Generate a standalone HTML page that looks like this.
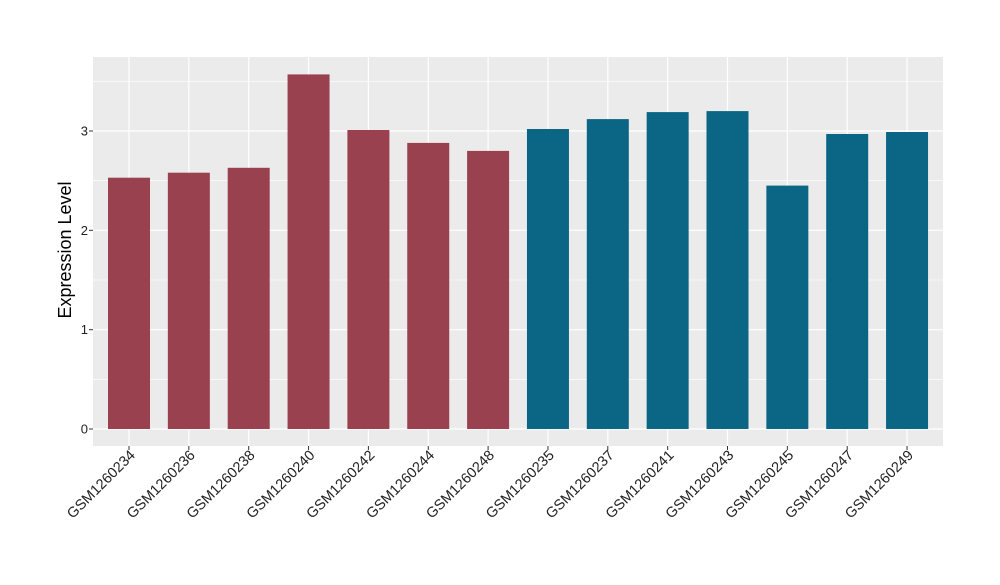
<!DOCTYPE html>
<html><head><meta charset="utf-8"><style>body{margin:0;background:#fff}</style></head>
<body>
<svg width="1000" height="580" xmlns="http://www.w3.org/2000/svg" font-family="Liberation Sans, sans-serif">
<rect x="93" y="57" width="850" height="389" fill="#EBEBEB"/>
<g stroke="#fff" stroke-width="0.6">
<line x1="93" x2="943" y1="379.3" y2="379.3"/><line x1="93" x2="943" y1="280" y2="280"/><line x1="93" x2="943" y1="180.7" y2="180.7"/><line x1="93" x2="943" y1="81.3" y2="81.3"/>
</g>
<g stroke="#fff" stroke-width="1.2">
<line x1="93" x2="943" y1="429" y2="429"/><line x1="93" x2="943" y1="329.7" y2="329.7"/><line x1="93" x2="943" y1="230.3" y2="230.3"/><line x1="93" x2="943" y1="131" y2="131"/>
<line x1="129" x2="129" y1="57" y2="446"/><line x1="188.85" x2="188.85" y1="57" y2="446"/><line x1="248.7" x2="248.7" y1="57" y2="446"/><line x1="308.55" x2="308.55" y1="57" y2="446"/><line x1="368.4" x2="368.4" y1="57" y2="446"/><line x1="428.25" x2="428.25" y1="57" y2="446"/><line x1="488.1" x2="488.1" y1="57" y2="446"/><line x1="547.95" x2="547.95" y1="57" y2="446"/><line x1="607.8" x2="607.8" y1="57" y2="446"/><line x1="667.65" x2="667.65" y1="57" y2="446"/><line x1="727.5" x2="727.5" y1="57" y2="446"/><line x1="787.35" x2="787.35" y1="57" y2="446"/><line x1="847.2" x2="847.2" y1="57" y2="446"/><line x1="907.05" x2="907.05" y1="57" y2="446"/>
</g>
<g fill="#9A4150">
<rect x="108" y="177.7" width="42" height="251.3"/>
<rect x="167.85" y="172.7" width="42" height="256.3"/>
<rect x="227.7" y="167.8" width="42" height="261.2"/>
<rect x="287.55" y="74.4" width="42" height="354.6"/>
<rect x="347.4" y="130" width="42" height="299"/>
<rect x="407.25" y="142.9" width="42" height="286.1"/>
<rect x="467.1" y="150.9" width="42" height="278.1"/>
</g>
<g fill="#0B6685">
<rect x="526.95" y="129" width="42" height="300"/>
<rect x="586.8" y="119.1" width="42" height="309.9"/>
<rect x="646.65" y="112.1" width="42" height="316.9"/>
<rect x="706.5" y="111.1" width="42" height="317.9"/>
<rect x="766.35" y="185.6" width="42" height="243.4"/>
<rect x="826.2" y="134" width="42" height="295"/>
<rect x="886.05" y="132" width="42" height="297"/>
</g>
<g font-size="13" fill="#222" text-anchor="end">
<text x="88" y="433.5">0</text><text x="88" y="334">1</text><text x="88" y="235">2</text><text x="88" y="135.5">3</text>
</g>
<g stroke="#333" stroke-width="1">
<line x1="89" x2="93" y1="429" y2="429"/><line x1="89" x2="93" y1="329.7" y2="329.7"/><line x1="89" x2="93" y1="230.3" y2="230.3"/><line x1="89" x2="93" y1="131" y2="131"/>
<line x1="129" x2="129" y1="446" y2="450"/><line x1="188.85" x2="188.85" y1="446" y2="450"/><line x1="248.7" x2="248.7" y1="446" y2="450"/><line x1="308.55" x2="308.55" y1="446" y2="450"/><line x1="368.4" x2="368.4" y1="446" y2="450"/><line x1="428.25" x2="428.25" y1="446" y2="450"/><line x1="488.1" x2="488.1" y1="446" y2="450"/><line x1="547.95" x2="547.95" y1="446" y2="450"/><line x1="607.8" x2="607.8" y1="446" y2="450"/><line x1="667.65" x2="667.65" y1="446" y2="450"/><line x1="727.5" x2="727.5" y1="446" y2="450"/><line x1="787.35" x2="787.35" y1="446" y2="450"/><line x1="847.2" x2="847.2" y1="446" y2="450"/><line x1="907.05" x2="907.05" y1="446" y2="450"/>
</g>
<text transform="translate(71,250) rotate(-90)" text-anchor="middle" font-size="18" fill="#000">Expression Level</text>
<g font-size="14.5" fill="#222" text-anchor="end">
<text transform="translate(136,456) rotate(-45)">GSM1260234</text>
<text transform="translate(195.85,456) rotate(-45)">GSM1260236</text>
<text transform="translate(255.7,456) rotate(-45)">GSM1260238</text>
<text transform="translate(315.55,456) rotate(-45)">GSM1260240</text>
<text transform="translate(375.4,456) rotate(-45)">GSM1260242</text>
<text transform="translate(435.25,456) rotate(-45)">GSM1260244</text>
<text transform="translate(495.1,456) rotate(-45)">GSM1260248</text>
<text transform="translate(554.95,456) rotate(-45)">GSM1260235</text>
<text transform="translate(614.8,456) rotate(-45)">GSM1260237</text>
<text transform="translate(674.65,456) rotate(-45)">GSM1260241</text>
<text transform="translate(734.5,456) rotate(-45)">GSM1260243</text>
<text transform="translate(794.35,456) rotate(-45)">GSM1260245</text>
<text transform="translate(854.2,456) rotate(-45)">GSM1260247</text>
<text transform="translate(914.05,456) rotate(-45)">GSM1260249</text>
</g>
</svg>
</body></html>
